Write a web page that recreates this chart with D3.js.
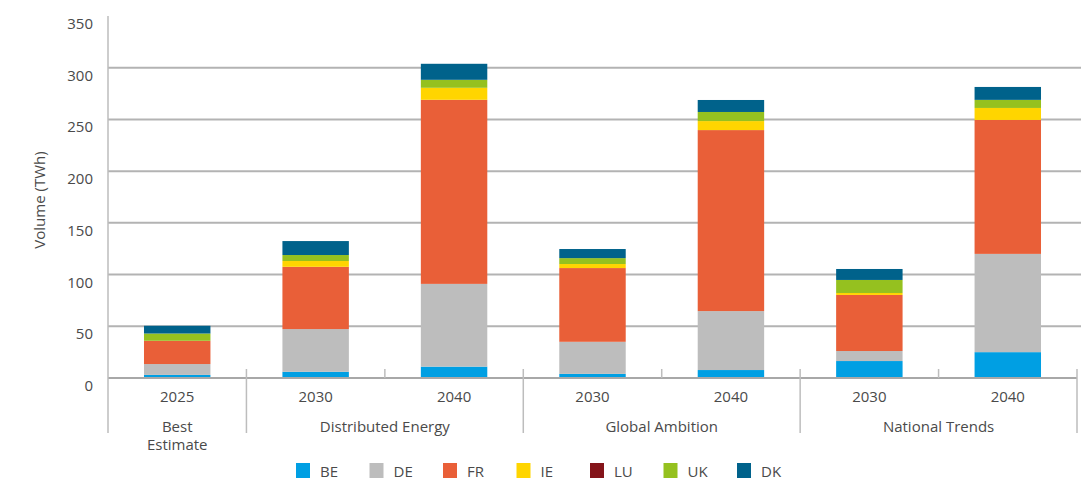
<!DOCTYPE html>
<html><head><meta charset="utf-8">
<script src="https://cdn.jsdelivr.net/npm/d3@7"></script>
<style>
body{margin:0;background:#fff;}
text{font-family:"Open Sans",sans-serif;fill:#4a4a4a;}
</style></head>
<body><svg id="c" width="1081" height="481"></svg>
<script>
const years = ["2025","2030","2040","2030","2040","2030","2040"];
const groups = [["Best","Estimate"],["Distributed Energy"],["Global Ambition"],["National Trends"]];
const groupSpans = [[0,1],[1,3],[3,5],[5,7]];
const seriesNames = ["BE","DE","FR","IE","LU","UK","DK"];
const colors = ["#009FE3","#BDBDBD","#E95F38","#FFD500","#84141A","#95C11F","#00628B"];
const BE = [3, 6, 11, 4, 7.7, 16.4, 25];
const DE = [10.5, 41.3, 80, 31, 57, 9.7, 95];
const FR = [22.5, 60.2, 178, 71.3, 175, 54.2, 129.5];
const IE = [0, 5.6, 11.6, 3.9, 8.7, 1.9, 11.6];
const LU = [0, 0, 0, 0, 0, 0, 0];
const UK = [7, 5.8, 7.7, 5.7, 8.8, 12.6, 7.8];
const DK = [7.5, 13.5, 15.5, 8.8, 11.6, 10.6, 12.5];
const yTicks = [0,50,100,150,200,250,300,350];

(function(){
const seriesVals = [BE,DE,FR,IE,LU,UK,DK];
const rows = years.map((yr,i)=>{const r={idx:i};seriesNames.forEach((s,j)=>r[s]=seriesVals[j][i]);return r;});
const stack = d3.stack().keys(seriesNames)(rows);

const svg = d3.select("#c");
const pl=108, pr=1077, pt=16, pb=378;
const x = d3.scaleBand().domain(d3.range(years.length)).range([pl,pr]).paddingInner(0.52).paddingOuter(0.26);
const y = d3.scaleLinear().domain([0,350]).range([pb,pt]);
const step = x.step();

svg.append("g").selectAll("line").data(yTicks.filter(t=>t>0&&t<350)).join("line")
  .attr("x1",pl).attr("x2",1081).attr("y1",d=>y(d)).attr("y2",d=>y(d))
  .attr("stroke","#b3b3b3").attr("stroke-width",2);

svg.append("g").selectAll("text").data(yTicks).join("text")
  .attr("x",93).attr("y",d=>y(d)+13).attr("text-anchor","end")
  .attr("font-size",15).text(d=>d);

svg.append("text").attr("transform","translate(45,200) rotate(-90)")
  .attr("text-anchor","middle").attr("font-size",15).text("Volume (TWh)");

svg.append("g").selectAll("g").data(stack).join("g")
  .attr("fill",(d,i)=>colors[i])
  .selectAll("rect").data(d=>d).join("rect")
  .attr("x",(d,i)=>x(i)).attr("width",x.bandwidth())
  .attr("y",d=>y(d[1])).attr("height",d=>Math.max(0,y(d[0])-y(d[1])));

svg.append("line").attr("x1",pl).attr("x2",pr).attr("y1",pb).attr("y2",pb)
  .attr("stroke","#a8a8a8").attr("stroke-width",2);
svg.append("line").attr("x1",pl).attr("x2",pl).attr("y1",pt).attr("y2",433)
  .attr("stroke","#bdbdbd").attr("stroke-width",1.5);

const groupBounds = new Set(groupSpans.map(g=>g[1]));
d3.range(1,years.length+1).forEach(k=>{
  const xx = pl + k*step;
  svg.append("line").attr("x1",xx).attr("x2",xx).attr("y1",369)
    .attr("y2", groupBounds.has(k)?433:pb)
    .attr("stroke","#bdbdbd").attr("stroke-width",1.5);
});

svg.append("g").selectAll("text").data(years).join("text")
  .attr("x",(d,i)=>x(i)+x.bandwidth()/2).attr("y",402)
  .attr("text-anchor","middle").attr("font-size",15).text(d=>d);

groups.forEach((g,gi)=>{
  const [a,b]=groupSpans[gi];
  const cx = pl + (a+b)/2*step;
  g.forEach((line,li)=>{
    svg.append("text").attr("x",cx).attr("y",432+li*18).attr("text-anchor","middle")
      .attr("font-size",15).text(line);
  });
});

const lg = svg.append("g").selectAll("g").data(seriesNames).join("g")
  .attr("transform",(d,i)=>`translate(${296+i*73.5},463)`);
lg.append("rect").attr("width",14).attr("height",15).attr("fill",(d,i)=>colors[i]);
lg.append("text").attr("x",24).attr("y",14).attr("font-size",15).text(d=>d);
})();
</script></body></html>
